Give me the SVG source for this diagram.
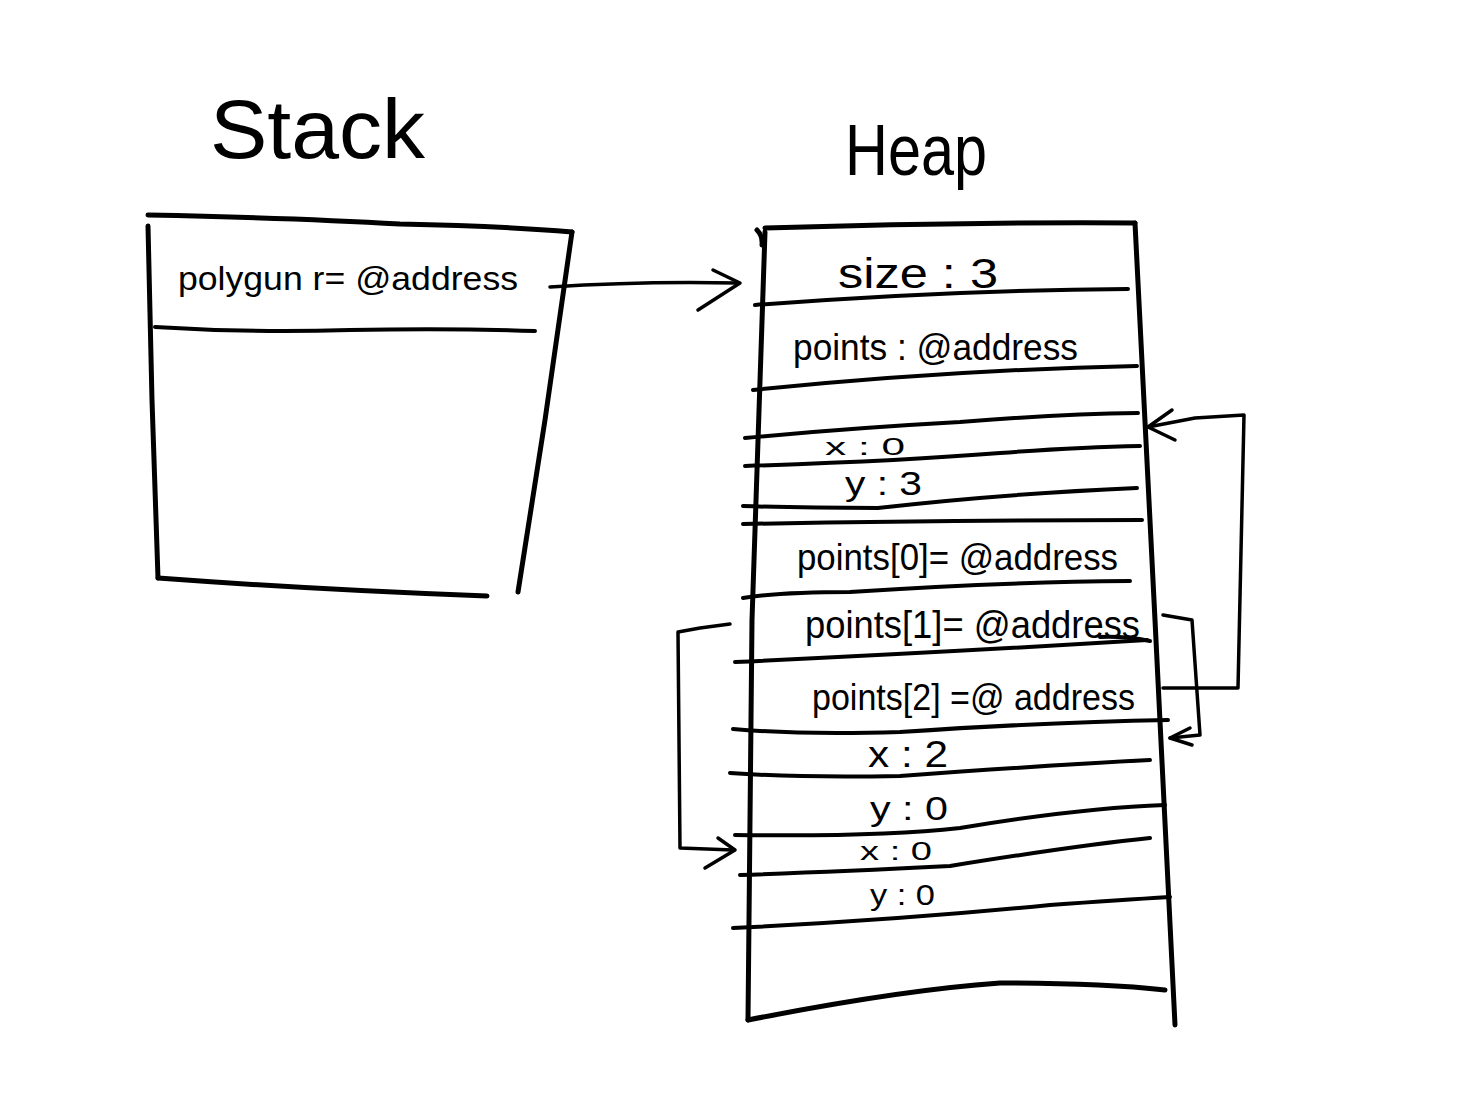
<svg xmlns="http://www.w3.org/2000/svg" width="1470" height="1116" viewBox="0 0 1470 1116">
<defs>
<style>
.t{font-family:"Liberation Sans","DejaVu Sans",sans-serif;fill:#000;}
.box{fill:none;stroke:#000;stroke-width:5;stroke-linecap:round;stroke-linejoin:round;}
.row{fill:none;stroke:#000;stroke-width:4;stroke-linecap:round;stroke-linejoin:round;}
.con{fill:none;stroke:#000;stroke-width:3.5;stroke-linecap:round;stroke-linejoin:round;}
</style>
</defs>
<rect width="1470" height="1116" fill="#fff"/>
<text class="t" x="210" y="158" font-size="84" textLength="215" lengthAdjust="spacingAndGlyphs">Stack</text>
<text class="t" x="845" y="175" font-size="72" textLength="142" lengthAdjust="spacingAndGlyphs">Heap</text>

<g id="stack">
<path class="box" d="M148,215 Q300,218 400,224 Q500,226 572,232"/>
<path class="box" d="M148,226 L152,400 L158,578"/>
<path class="box" d="M158,578 Q320,590 487,596"/>
<path class="box" d="M572,232 L545,420 L518,592"/>
<path class="row" d="M155,327 Q250,333 350,330 Q450,328 535,331"/>
<text class="t" x="178" y="290" font-size="34" textLength="340" lengthAdjust="spacingAndGlyphs">polygun r= @address</text>
</g>

<g id="heap">
<path class="box" d="M765,228 Q950,222 1135,223"/>
<path class="box" d="M757,230 Q763,236 762,245"/>
<path class="box" d="M765,232 L752,620 L748,1020"/>
<path class="box" d="M1135,223 L1155,620 L1175,1025"/>
<path class="box" d="M748,1020 Q900,990 1000,983 Q1100,983 1165,990"/>
<path class="row" d="M755,305 Q950,290 1128,289"/>
<path class="row" d="M753,390 Q950,370 1137,366"/>
<path class="row" d="M745,438 Q850,428 960,422 Q1060,414 1138,413"/>
<path class="row" d="M745,466 Q900,461 1000,453 Q1080,447 1140,446"/>
<path class="row" d="M743,506 Q800,508 878,508 Q1000,494 1137,488"/>
<path class="row" d="M743,524 Q950,520 1142,520"/>
<path class="row" d="M743,598 Q780,592 850,592 Q1000,582 1130,581"/>
<path class="row" d="M1100,637 Q1125,636 1150,641"/>
<path class="row" d="M735,662 Q950,652 1147,640"/>
<path class="row" d="M733,729 Q800,735 900,732 Q1050,722 1168,720"/>
<path class="row" d="M730,773 Q800,778 900,776 Q1050,765 1150,760"/>
<path class="row" d="M735,835 Q880,837 960,828 Q1080,808 1165,805"/>
<path class="row" d="M740,875 Q830,872 950,866 Q1080,845 1150,838"/>
<path class="row" d="M733,928 Q900,920 1050,905 Q1120,900 1170,897"/>
<text class="t" x="838" y="288" font-size="42" textLength="160" lengthAdjust="spacingAndGlyphs">size : 3</text>
<text class="t" x="793" y="360" font-size="36" textLength="285" lengthAdjust="spacingAndGlyphs">points : @address</text>
<text class="t" x="825" y="455" font-size="24" textLength="80" lengthAdjust="spacingAndGlyphs">x : 0</text>
<text class="t" x="845" y="495" font-size="34" textLength="77" lengthAdjust="spacingAndGlyphs">y : 3</text>
<text class="t" x="797" y="570" font-size="36" textLength="321" lengthAdjust="spacingAndGlyphs">points[0]= @address</text>
<text class="t" x="805" y="638" font-size="38" textLength="335" lengthAdjust="spacingAndGlyphs">points[1]= @address</text>
<text class="t" x="812" y="710" font-size="36" textLength="323" lengthAdjust="spacingAndGlyphs">points[2] =@ address</text>
<text class="t" x="868" y="767" font-size="36" textLength="80" lengthAdjust="spacingAndGlyphs">x : 2</text>
<text class="t" x="870" y="820" font-size="34" textLength="78" lengthAdjust="spacingAndGlyphs">y : 0</text>
<text class="t" x="860" y="860" font-size="26" textLength="72" lengthAdjust="spacingAndGlyphs">x : 0</text>
<text class="t" x="870" y="905" font-size="30" textLength="65" lengthAdjust="spacingAndGlyphs">y : 0</text>
</g>

<g id="connectors">
<path class="con" d="M550,287 Q640,281 738,283"/>
<path class="con" d="M713,270 L740,283 L698,310"/>
<path class="con" d="M1163,688 L1238,688 L1244,415 L1195,418 L1148,427"/>
<path class="con" d="M1172,410 L1148,427 L1175,440"/>
<path class="con" d="M1163,615 L1192,620 L1200,735 L1170,738"/>
<path class="con" d="M1190,728 L1170,738 L1192,745"/>
<path class="con" d="M730,624 L700,628 L678,632 L680,848 L733,850"/>
<path class="con" d="M718,838 L735,850 L705,868"/>
</g>
</svg>
